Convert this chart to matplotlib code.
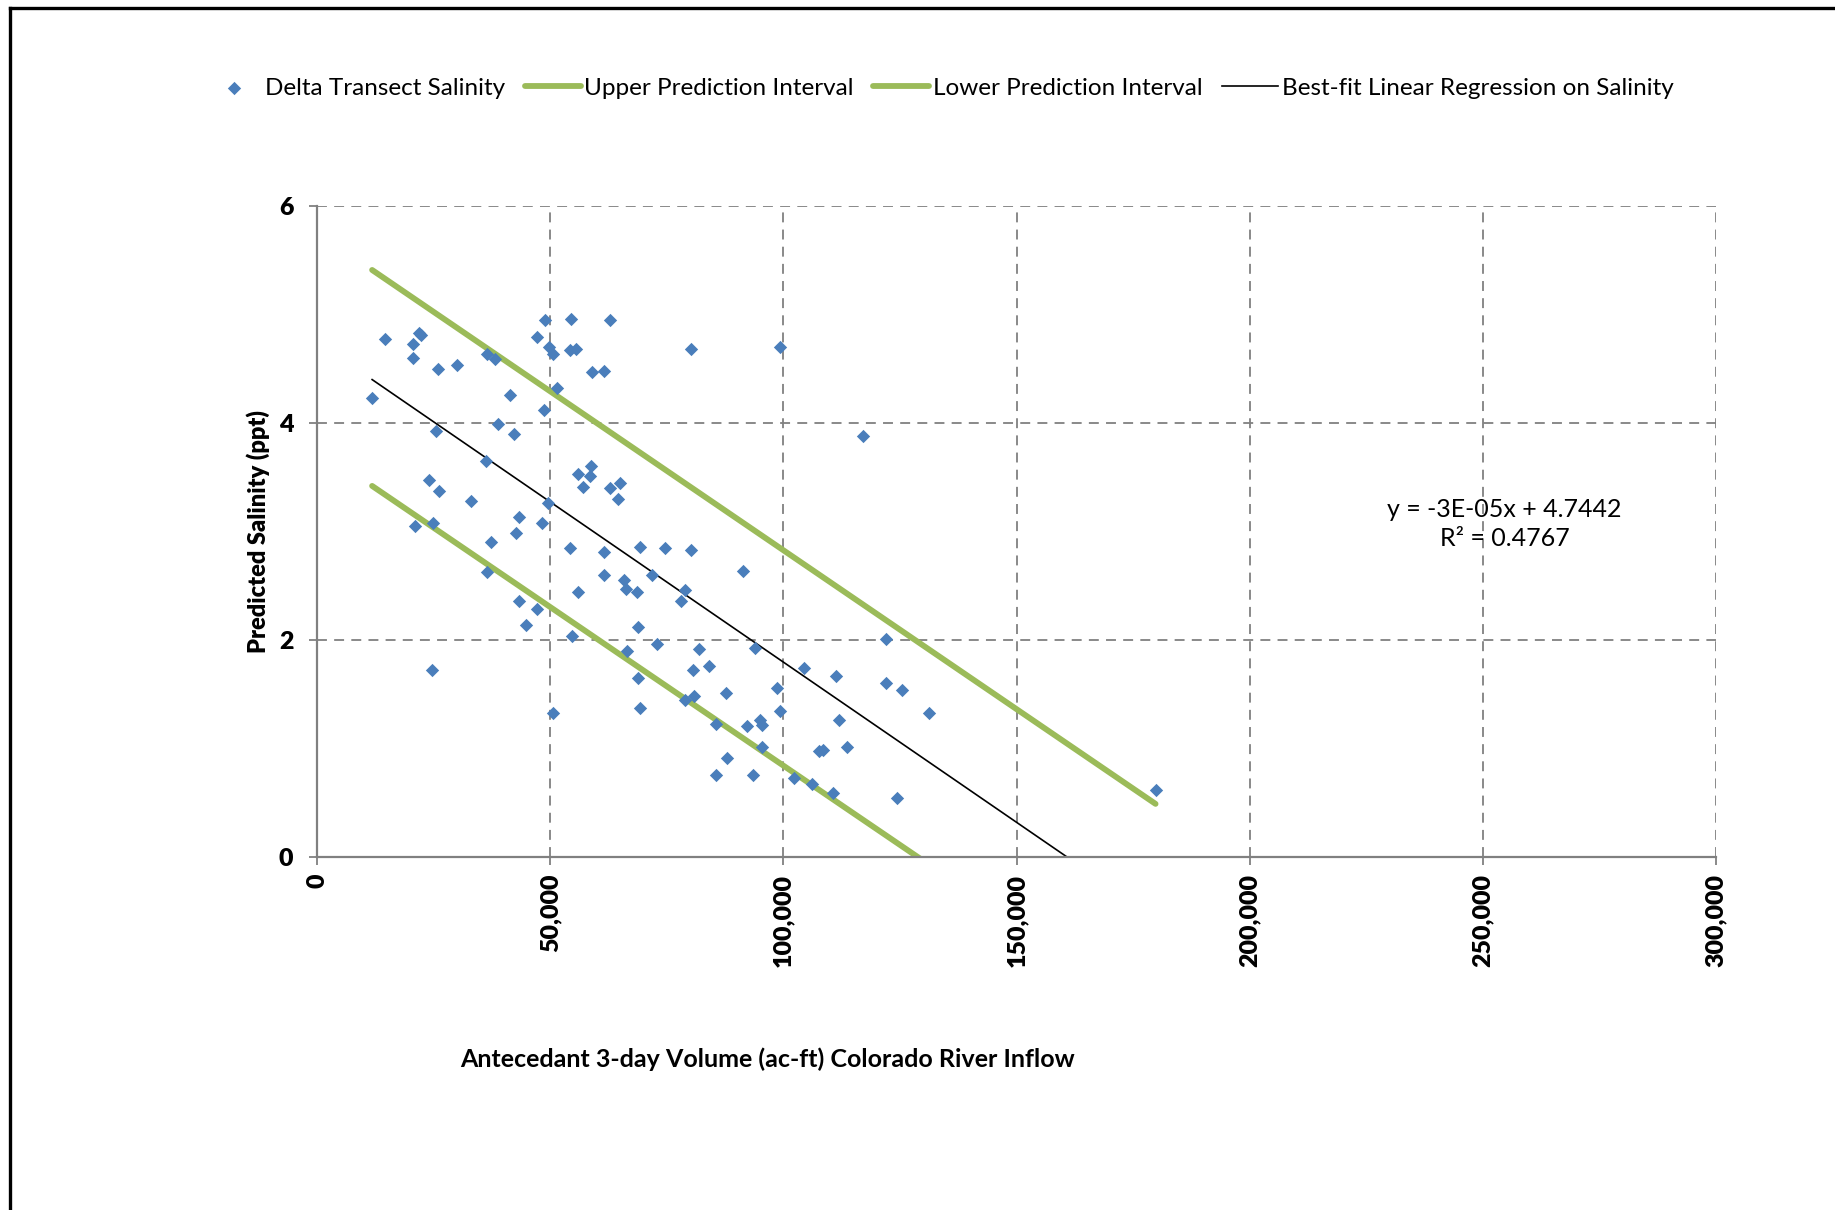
import numpy as np
import matplotlib
matplotlib.use("Agg")
import matplotlib.pyplot as plt
from matplotlib.lines import Line2D
from matplotlib.ticker import FuncFormatter

plt.rcParams["font.family"] = ["Lato", "DejaVu Sans"]

# Antecedent 3-day inflow volume (ac-ft) and delta transect salinity (ppt).
inflow = [11800, 14600, 20600, 20600, 21800, 22300, 25900, 29900, 36400,
    38200, 25600, 38900, 41400, 42200, 36200, 24100, 26100, 32900, 20900,
    24900, 37400, 42700, 43200, 36400, 43200, 44900, 47200, 24600, 48200,
    49500, 48700, 51500, 47200, 48900, 49700, 50500, 54500, 54200, 55500,
    59000, 61500, 62800, 50500, 54200, 54700, 56000, 56000, 57000, 58500,
    58700, 61500, 61500, 62800, 64500, 65000, 65800, 66300, 66500, 68500,
    68800, 68800, 69300, 69300, 71800, 72800, 74600, 78100, 78800, 78800,
    80100, 80100, 80600, 80800, 81800, 84100, 85600, 85600, 87600, 87900,
    91400, 92100, 93400, 93900, 94900, 95400, 95400, 98700, 99200, 99200,
    102200, 104400, 106200, 107700, 108500, 110700, 111200, 112000, 113700,
    117000, 122000, 122000, 124300, 125500, 131300, 179800]
salinity = [4.23, 4.77, 4.73, 4.60, 4.83, 4.81, 4.50, 4.53, 4.64, 4.59,
    3.93, 3.99, 4.26, 3.90, 3.65, 3.47, 3.37, 3.28, 3.05, 3.08, 2.90, 2.99,
    3.13, 2.63, 2.36, 2.14, 2.29, 1.72, 3.08, 3.26, 4.12, 4.32, 4.79, 4.95,
    4.70, 4.64, 4.96, 4.67, 4.68, 4.47, 4.48, 4.95, 1.33, 2.85, 2.04, 2.44,
    3.53, 3.41, 3.51, 3.60, 2.60, 2.81, 3.40, 3.30, 3.45, 2.55, 2.47, 1.90,
    2.44, 2.12, 1.65, 1.37, 2.86, 2.60, 1.96, 2.85, 2.36, 2.46, 1.45, 2.83,
    4.68, 1.72, 1.48, 1.92, 1.76, 1.23, 0.76, 1.51, 0.91, 2.64, 1.21, 0.76,
    1.93, 1.26, 1.22, 1.01, 1.56, 4.70, 1.35, 0.73, 1.74, 0.67, 0.98, 0.99,
    0.59, 1.67, 1.26, 1.01, 3.88, 2.01, 1.60, 0.54, 1.54, 1.33, 0.62]

# Line end points.
line_x = [11800, 179800]
upper_y = [5.41, 0.49]
lower_y = [3.42, -1.49]
fit_y = [4.40, -0.56]

x_ticks = [0, 50000, 100000, 150000, 200000, 250000, 300000]
y_ticks = [0, 2, 4, 6]

# ------------------------------------------------------------------------------
# ---- Plotting. ---------------------------------------------------------------
# ------------------------------------------------------------------------------

blue = "#4A7EBB"
green = "#9BBB59"
grey = "#808080"

fig = plt.figure(figsize=(18.35, 12.10), dpi=100)
ax = fig.add_axes([0.1728, 0.2917, 0.7624, 0.5381])

ax.scatter(inflow, salinity, marker="D", s=46, color=blue, linewidths=0,
    zorder=3, label="Delta Transect Salinity")
ax.plot(line_x, upper_y, color=green, linewidth=4.2, solid_capstyle="round",
    label="Upper Prediction Interval", zorder=2)
ax.plot(line_x, lower_y, color=green, linewidth=4.2, solid_capstyle="round",
    label="Lower Prediction Interval", zorder=2)
ax.plot(line_x, fit_y, color="black", linewidth=1.2,
    label="Best-fit Linear Regression on Salinity", zorder=2)

ax.set_xlim(0, 300000)
ax.set_ylim(0, 6)
ax.set_xticks(x_ticks)
ax.set_yticks(y_ticks)
ax.xaxis.set_major_formatter(FuncFormatter(lambda v, p: "{:,.0f}".format(v)))

ax.grid(True, color=grey, linestyle=(0, (5.5, 4)), linewidth=1.3)
ax.set_axisbelow(True)
for side in ["top", "right"]:
    ax.spines[side].set_visible(False)
for side in ["left", "bottom"]:
    ax.spines[side].set_color(grey)
    ax.spines[side].set_linewidth(1.6)

ax.tick_params(axis="both", direction="out", length=6, width=1.3, color=grey,
    labelsize=18)
ax.tick_params(axis="y", pad=11)
ax.tick_params(axis="x", pad=6, labelrotation=90)
for tick in ax.xaxis.get_major_ticks() + ax.yaxis.get_major_ticks():
    tick.label1.set_fontweight("heavy")

ax.set_ylabel("Predicted Salinity (ppt)", fontsize=17, fontweight="heavy")
ax.yaxis.set_label_coords(-0.0336, 0.5)
ax.set_xlabel("Antecedant 3-day Volume (ac-ft) Colorado River Inflow",
    fontsize=18, fontweight="bold")
ax.xaxis.set_label_coords(0.322, -0.293)

ax.text(0.8488, 0.5115, "y = -3E-05x + 4.7442\nR² = 0.4767",
    transform=ax.transAxes, ha="center", va="center", fontsize=18,
    linespacing=1.3)

fig.legend(loc="center", bbox_to_anchor=(0.512, 0.927), ncol=4,
    frameon=False, fontsize=17.5, handlelength=2.3, handletextpad=0.15,
    columnspacing=0.8, markerscale=1.0)

# Outer chart frame (left and top edges visible).
fig.add_artist(Line2D([0.0057, 0.0057], [0.0, 0.993], color="black",
    linewidth=2.4, transform=fig.transFigure))
fig.add_artist(Line2D([0.0057, 1.0], [0.993, 0.993], color="black",
    linewidth=2.4, transform=fig.transFigure))

fig.savefig("out.png", dpi=100)
